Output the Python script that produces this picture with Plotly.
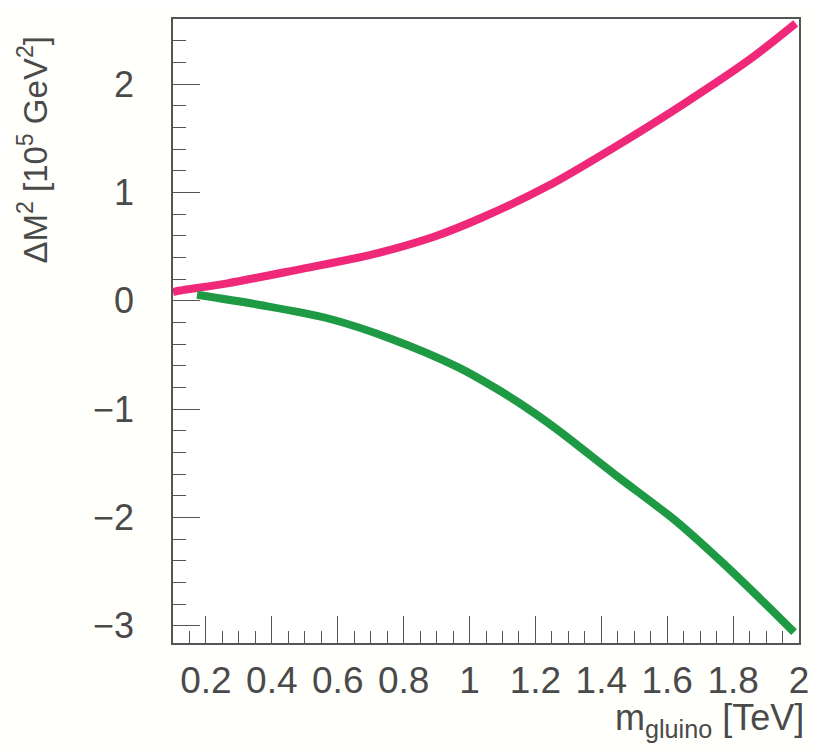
import plotly.graph_objects as go

# Data
m_gluino_plus = [0.10, 0.122, 0.265, 0.465, 0.709, 0.892, 1.04, 1.239, 1.442, 1.647, 1.852, 1.99]
dm2_plus = [0.08, 0.094, 0.16, 0.278, 0.43, 0.59, 0.77, 1.06, 1.42, 1.81, 2.23, 2.56]

m_gluino_minus = [0.173, 0.364, 0.566, 0.765, 0.966, 1.086, 1.198, 1.275, 1.446, 1.625, 1.765, 1.902, 1.985]
dm2_minus = [0.054, -0.04, -0.16, -0.355, -0.615, -0.82, -1.04, -1.21, -1.616, -2.03, -2.41, -2.81, -3.06]

x_range = [0.1, 2.0]
y_range = [-3.16, 2.6]

PINK = "#f0287a"
GREEN = "#1e9a44"
AXIS = "#555555"
TEXT = "#4a4a4a"
FONT = "Liberation Sans, Arial, sans-serif"

fig = go.Figure()
fig.add_trace(go.Scatter(x=m_gluino_plus, y=dm2_plus, mode="lines",
                         line=dict(color=PINK, width=8, shape="spline", smoothing=0.8),
                         showlegend=False, hoverinfo="skip"))
fig.add_trace(go.Scatter(x=m_gluino_minus, y=dm2_minus, mode="lines",
                         line=dict(color=GREEN, width=8, shape="spline", smoothing=0.8),
                         showlegend=False, hoverinfo="skip"))

# page body has an 8px offset; figure coordinates below are page pixels minus 8
OFF = 8
W, H = 820 - OFF, 754 - OFF
L = 173 - OFF
T = 17 - OFF
R = W - (799 - OFF)
B = H - (643 - OFF)
pw = W - L - R
ph = H - T - B


def px_x(px):
    return (px - OFF - L) / pw


def px_y(py):
    return (H - B - (py - OFF)) / ph


fig.update_layout(
    width=W, height=H,
    margin=dict(l=L, r=R, t=T, b=B),
    paper_bgcolor="#fffffb",
    plot_bgcolor="#ffffff",
    font=dict(family=FONT, color=TEXT, size=36),
    showlegend=False,
)

fig.update_xaxes(
    range=x_range, showgrid=False, zeroline=False,
    showline=True, linecolor=AXIS, linewidth=1.5, mirror=True,
    ticks="inside", ticklen=27, tickwidth=1.3, tickcolor=AXIS,
    tick0=0, dtick=0.2,
    minor=dict(ticks="inside", ticklen=12, tickwidth=1.3, tickcolor=AXIS, tick0=0, dtick=0.05, showgrid=False),
    tickfont=dict(size=37, color=TEXT, family=FONT),
    ticklabelstandoff=4,
)
fig.update_yaxes(
    range=y_range, showgrid=False, zeroline=False,
    showline=True, linecolor=AXIS, linewidth=1.5, mirror=True,
    ticks="inside", ticklen=27, tickwidth=1.3, tickcolor=AXIS,
    tick0=0, dtick=1,
    minor=dict(ticks="inside", ticklen=13, tickwidth=1.3, tickcolor=AXIS, tick0=0, dtick=0.2, showgrid=False),
    tickfont=dict(size=36, color=TEXT, family=FONT),
    ticklabelstandoff=30,
)

fig.add_annotation(
    text="m<sub>gluino</sub> [TeV]", xref="paper", yref="paper",
    x=px_x(806), y=px_y(720), xanchor="right", yanchor="middle",
    showarrow=False, font=dict(size=36, color=TEXT, family=FONT),
)
fig.add_annotation(
    text="ΔM<sup>2</sup> [10<sup>5</sup> GeV<sup>2</sup>]", xref="paper", yref="paper",
    x=px_x(33), y=px_y(148), xanchor="center", yanchor="middle",
    textangle=-90, showarrow=False, font=dict(size=33, color=TEXT, family=FONT),
)

fig.write_html("out.html")
